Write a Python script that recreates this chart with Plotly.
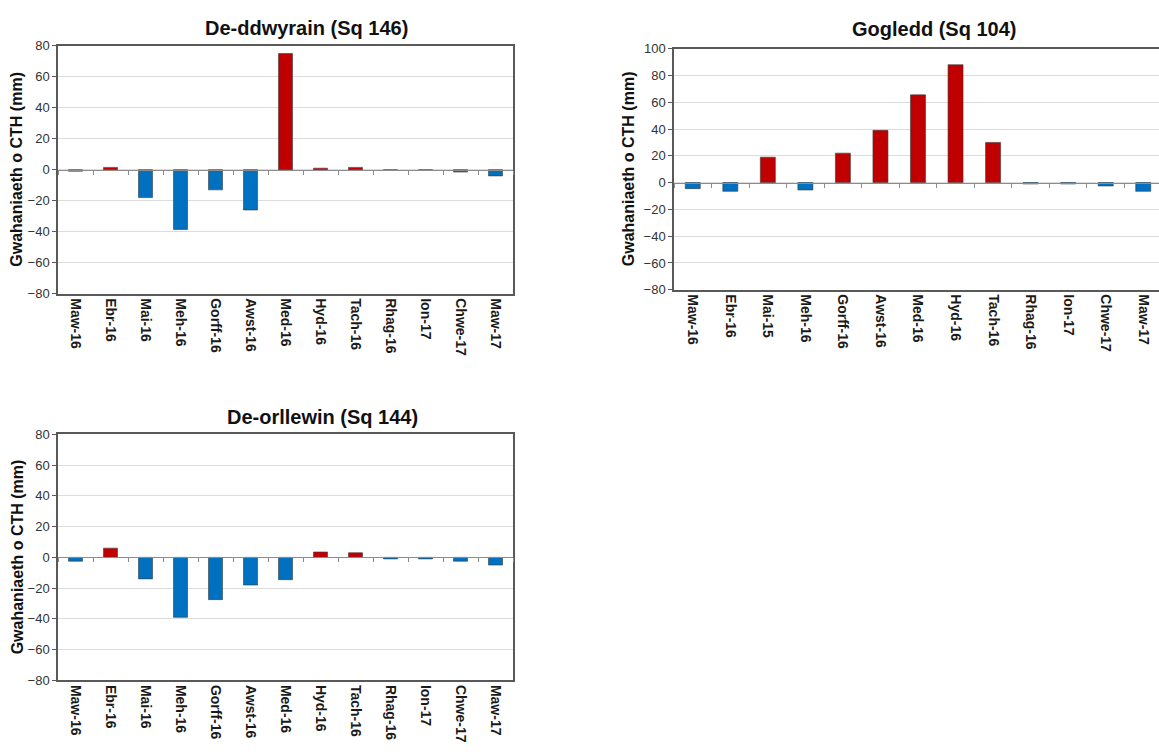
import plotly.graph_objects as go

W, H = 1159, 756

months_a = ["Maw-16", "Ebr-16", "Mai-16", "Meh-16", "Gorff-16", "Awst-16", "Med-16",
            "Hyd-16", "Tach-16", "Rhag-16", "Ion-17", "Chwe-17", "Maw-17"]
months_b = ["Maw-16", "Ebr-16", "Mai-15", "Meh-16", "Gorff-16", "Awst-16", "Med-16",
            "Hyd-16", "Tach-16", "Rhag-16", "Ion-17", "Chwe-17", "Maw-17"]

se_values = [-1, 1.5, -18, -38.5, -13, -26, 75, 1, 1.5, -0.5, -0.5, -1.5, -4]
n_values = [-4.5, -6.5, 19, -5.5, 22, 39, 65.5, 88, 30, -1, -1, -2.5, -6.5]
sw_values = [-2.5, 6, -14, -39, -27.5, -18, -14.5, 3.5, 3, -1, -1, -2.5, -5]

titles = ["De-ddwyrain (Sq 146)", "Gogledd (Sq 104)", "De-orllewin (Sq 144)"]
y_title = "Gwahaniaeth o CTH (mm)"

RED = "#C00000"
BLUE = "#0070C0"
FONT = "Liberation Sans, Arial, sans-serif"

# pixel boxes of plot areas: (left, right, top, bottom)
boxes = [(58, 513, 39.5, 292.5), (674, 1162, 42.5, 288.5), (58, 513, 436, 687)]
yranges = [(-80, 80), (-80, 100), (-80, 80)]
title_pos = [(306, 21), (934, 22), (322, 418)]
ytitle_x = [17, 628, 17]

panels = [(months_a, se_values), (months_b, n_values), (months_a, sw_values)]

fig = go.Figure()
layout = dict(autosize=True, margin=dict(l=0, r=0, t=0, b=0, pad=0),
              paper_bgcolor="white", plot_bgcolor="white", showlegend=False,
              bargap=0.6, font=dict(family=FONT, color="#222222"))
annotations = []

for i, ((cats, vals), box, yr) in enumerate(zip(panels, boxes, yranges), start=1):
    l, r, t, b = box
    clip_r = min(r, W)
    xd = [l / W, clip_r / W]
    yd = [1 - b / H, 1 - t / H]
    ncat = len(cats)
    xr_hi = -0.5 + ncat * (clip_r - l) / (r - l)
    xa = f"x{i}" if i > 1 else "x"
    ya = f"y{i}" if i > 1 else "y"
    xz = f"x{i + 3}"
    full = r <= W
    colors = [RED if v > 0 else BLUE for v in vals]
    fig.add_trace(go.Bar(x=cats, y=vals, xaxis=xa, yaxis=ya,
                         marker=dict(color=colors, line=dict(color="#3a3a3a", width=0.6)),
                         hoverinfo="x+y"))
    fig.add_trace(go.Scatter(x=cats, y=[0] * ncat, xaxis=xz, yaxis=ya, mode="markers",
                             marker=dict(opacity=0, size=1), hoverinfo="skip"))
    layout[f"xaxis{i}"] = dict(domain=xd, anchor=ya, type="category", range=[-0.5, xr_hi],
                               tickangle=90, showline=True, linecolor="#595959", linewidth=1.5,
                               mirror=True if full else "all", ticks="",
                               tickfont=dict(size=14, family=FONT, color="#1a1a1a", weight="bold"),
                               showgrid=False, zeroline=False, fixedrange=True)
    layout[f"yaxis{i}"] = dict(domain=yd, anchor=xa, range=list(yr), dtick=20,
                               showline=True, linecolor="#595959", linewidth=1.5,
                               mirror=True if full else False,
                               ticks="outside", ticklen=4, tickcolor="#595959",
                               tickfont=dict(size=13, family=FONT, color="#333333"),
                               showgrid=True, gridcolor="#DCDCDC", gridwidth=1,
                               zeroline=False, fixedrange=True)
    zero_pos = yd[0] + (0 - yr[0]) / (yr[1] - yr[0]) * (yd[1] - yd[0])
    layout[f"xaxis{i + 3}"] = dict(overlaying=xa, matches=xa, anchor="free", position=zero_pos,
                                   type="category", showline=True, linecolor="#8c8c8c",
                                   linewidth=1, ticks="outside", tickson="boundaries",
                                   ticklen=4, tickcolor="#8c8c8c", showticklabels=False,
                                   showgrid=False, zeroline=False, fixedrange=True)
    tx, ty = title_pos[i - 1]
    annotations.append(dict(text=f"<b>{titles[i - 1]}</b>", x=tx / W, y=1 - ty / H,
                            xref="paper", yref="paper", showarrow=False,
                            xanchor="center", yanchor="middle",
                            font=dict(size=20, family=FONT, color="#111111")))
    annotations.append(dict(text=f"<b>{y_title}</b>", x=ytitle_x[i - 1] / W,
                            y=(yd[0] + yd[1]) / 2, xref="paper", yref="paper",
                            showarrow=False, textangle=-90, xanchor="center", yanchor="middle",
                            font=dict(size=16, family=FONT, color="#111111")))

layout["annotations"] = annotations
fig.update_layout(**layout)
fig.write_html(
    "out.html",
    default_width="100vw",
    default_height="100vh",
    config={"displayModeBar": False, "responsive": True},
    post_script=("document.documentElement.style.margin='0';"
                 "document.body.style.margin='0';document.body.style.overflow='hidden';"
                 "Plotly.Plots.resize(document.getElementById('{plot_id}'));"),
)
